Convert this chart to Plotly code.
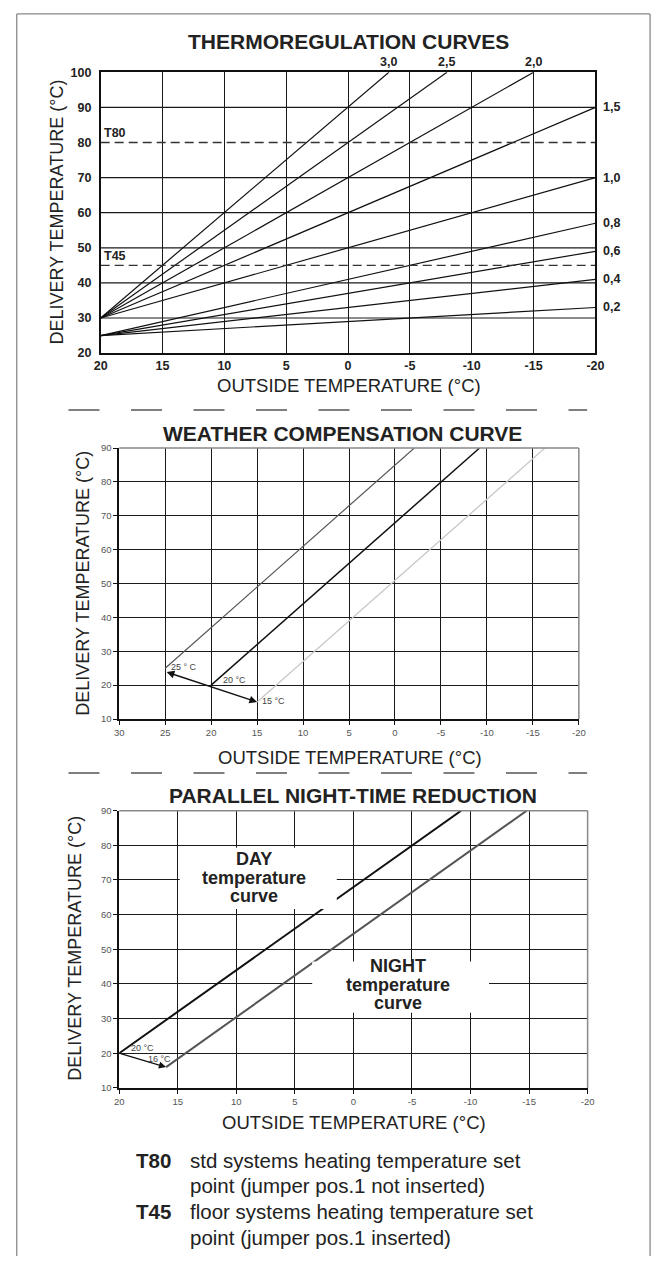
import plotly.graph_objects as go

W, H = 662, 1263

# ---------------- data ----------------
# Chart 1 : thermoregulation curves (straight lines: start and end points)
CURVE_LABELS = ["3,0", "2,5", "2,0", "1,5", "1,0", "0,8", "0,6", "0,4", "0,2"]
CURVE_X0 = [20, 20, 20, 20, 20, 20, 20, 20, 20]
CURVE_Y0 = [30, 30, 30, 30, 30, 25, 25, 25, 25]
CURVE_X1 = [-3.3, -8, -15, -20, -20, -20, -20, -20, -20]
CURVE_Y1 = [100, 100, 100, 90, 70, 57, 49, 41, 33]
SETPOINT_NAMES = ["T80", "T45"]
SETPOINT_VALUES = [80, 45]
TOP_X_TICKS = [20, 15, 10, 5, 0, -5, -10, -15, -20]
TOP_Y_TICKS = [20, 30, 40, 50, 60, 70, 80, 90, 100]
TOP_Y_GRID = [30, 40, 50, 60, 70, 90]

# Chart 2 : weather compensation curve
WC_LABELS = ["25 ° C", "20 °C", "15 °C"]
WC_X0 = [25, 20, 15]
WC_Y0 = [25, 20, 15]
WC_X1 = [-2.1, -9.2, -16.3]
WC_Y1 = [90, 90, 90]
WC_ARROW_X = [25, 15]
WC_ARROW_Y = [24, 15]
MID_X_TICKS = [30, 25, 20, 15, 10, 5, 0, -5, -10, -15, -20]
MID_Y_TICKS = [10, 20, 30, 40, 50, 60, 70, 80, 90]

# Chart 3 : parallel night-time reduction
NR_NAMES = ["DAY", "NIGHT"]
NR_X0 = [20, 16]
NR_Y0 = [20, 16]
NR_X1 = [-9.2, -14.8]
NR_Y1 = [90, 90]
NR_POINT_LABELS = ["20 °C", "16 °C"]
BOT_X_TICKS = [20, 15, 10, 5, 0, -5, -10, -15, -20]
BOT_Y_TICKS = [10, 20, 30, 40, 50, 60, 70, 80, 90]

NOTES = [("T80", "std systems heating temperature set", "point (jumper pos.1 not inserted)"),
         ("T45", "floor systems heating temperature set", "point (jumper pos.1 inserted)")]

# ---------------- helpers ----------------
FONT = "Liberation Sans, Arial, Helvetica, sans-serif"


def px(x):
    return x / W


def py(y):
    return 1 - y / H


def ticktext(vals):
    return [str(v) for v in vals]


fig = go.Figure()
annotations = []
shapes = []

# ---------------- chart 1 ----------------
for yv in TOP_Y_GRID:
    shapes.append(dict(type="line", xref="x domain", yref="y", x0=0, x1=1, y0=yv, y1=yv,
                       line=dict(color="#1a1a1a", width=1.2), layer="below"))

for lab, x0, y0, x1, y1 in zip(CURVE_LABELS, CURVE_X0, CURVE_Y0, CURVE_X1, CURVE_Y1):
    fig.add_trace(go.Scatter(x=[x0, x1], y=[y0, y1], mode="lines",
                             line=dict(color="#111", width=1.2),
                             xaxis="x", yaxis="y", showlegend=False, hoverinfo="skip"))
    if y1 >= 100:
        annotations.append(dict(x=x1, y=y1, xref="x", yref="y", text="<b>%s</b>" % lab,
                                showarrow=False, xanchor="center", yanchor="bottom", yshift=1,
                                font=dict(family=FONT, size=12.5, color="#222")))
    else:
        annotations.append(dict(x=x1, y=y1, xref="x", yref="y", text="<b>%s</b>" % lab,
                                showarrow=False, xanchor="left", yanchor="middle", xshift=6,
                                font=dict(family=FONT, size=12.5, color="#222")))

for name, val in zip(SETPOINT_NAMES, SETPOINT_VALUES):
    fig.add_trace(go.Scatter(x=[TOP_X_TICKS[0], TOP_X_TICKS[-1]], y=[val, val], mode="lines",
                             line=dict(color="#333", width=1.3, dash="9px,5px"),
                             xaxis="x", yaxis="y", showlegend=False, hoverinfo="skip"))
    annotations.append(dict(x=TOP_X_TICKS[0], y=val, xref="x", yref="y", text="<b>%s</b>" % name,
                            showarrow=False, xanchor="left", yanchor="bottom", xshift=1, yshift=0,
                            font=dict(family=FONT, size=12.5, color="#222")))

# ---------------- chart 2 ----------------
wc_styles = [dict(color="#555", width=1.2), dict(color="#111", width=1.5), dict(color="#c8c8c8", width=1.3)]
for lab, x0, y0, x1, y1, st in zip(WC_LABELS, WC_X0, WC_Y0, WC_X1, WC_Y1, wc_styles):
    fig.add_trace(go.Scatter(x=[x0, x1], y=[y0, y1], mode="lines", line=st,
                             xaxis="x2", yaxis="y2", showlegend=False, hoverinfo="skip"))

wc_label_pos = [(23.0, 25.3), (17.5, 21.4), (13.2, 15.2)]
for lab, (lx, ly) in zip(WC_LABELS, wc_label_pos):
    annotations.append(dict(x=lx, y=ly, xref="x2", yref="y2", text=lab, showarrow=False,
                            xanchor="center", yanchor="middle",
                            font=dict(family=FONT, size=9, color="#444")))

annotations.append(dict(x=WC_ARROW_X[1], y=WC_ARROW_Y[1], ax=WC_ARROW_X[0], ay=WC_ARROW_Y[0],
                        xref="x2", yref="y2", axref="x2", ayref="y2", text="", showarrow=True,
                        arrowhead=2, startarrowhead=2, arrowside="end+start", arrowsize=1.1,
                        startarrowsize=1.1, arrowwidth=1.4, arrowcolor="#111"))

# ---------------- chart 3 ----------------
nr_styles = [dict(color="#111", width=2), dict(color="#555", width=2)]
for name, x0, y0, x1, y1, st in zip(NR_NAMES, NR_X0, NR_Y0, NR_X1, NR_Y1, nr_styles):
    fig.add_trace(go.Scatter(x=[x0, x1], y=[y0, y1], mode="lines", line=st,
                             xaxis="x3", yaxis="y3", showlegend=False, hoverinfo="skip"))

annotations.append(dict(x=NR_X0[1], y=NR_Y0[1], ax=NR_X0[0], ay=NR_Y0[0],
                        xref="x3", yref="y3", axref="x3", ayref="y3", text="", showarrow=True,
                        arrowhead=2, arrowsize=1.1, arrowwidth=1.3, arrowcolor="#111"))
nr_label_pos = [(18.0, 21.4), (16.6, 18.4)]
for lab, (lx, ly) in zip(NR_POINT_LABELS, nr_label_pos):
    annotations.append(dict(x=lx, y=ly, xref="x3", yref="y3", text=lab, showarrow=False,
                            xanchor="center", yanchor="middle",
                            font=dict(family=FONT, size=9, color="#444")))

# white boxes behind the DAY / NIGHT labels
for (xa, xb, ya, yb) in [(14.83, 1.42, 79.3, 61.6), (3.52, -11.58, 46.5, 31.7)]:
    shapes.append(dict(type="rect", xref="x3", yref="y3", x0=xa, x1=xb, y0=ya, y1=yb,
                       fillcolor="white", line=dict(width=0), layer="above"))

day_lines = [("DAY", 861.7), ("temperature", 880.5), ("curve", 898.5)]
night_lines = [("NIGHT", 970.0), ("temperature", 988.5), ("curve", 1007.0)]
for txt, yy in day_lines:
    annotations.append(dict(x=px(253.5), y=py(yy), xref="paper", yref="paper", text="<b>%s</b>" % txt,
                            showarrow=False, xanchor="center", yanchor="middle",
                            font=dict(family=FONT, size=18, color="#222")))
for txt, yy in night_lines:
    annotations.append(dict(x=px(401), y=py(yy), xref="paper", yref="paper", text="<b>%s</b>" % txt,
                            showarrow=False, xanchor="center", yanchor="middle",
                            font=dict(family=FONT, size=18, color="#222")))

# ---------------- titles ----------------
titles = [("THERMOREGULATION CURVES", 349.5, 35), ("WEATHER COMPENSATION CURVE", 343.5, 431),
          ("PARALLEL NIGHT-TIME REDUCTION", 354.3, 797)]
for txt, xx, yy in titles:
    annotations.append(dict(x=px(xx), y=py(yy), xref="paper", yref="paper", text="<b>%s</b>" % txt,
                            showarrow=False, xanchor="center", yanchor="middle",
                            font=dict(family=FONT, size=21, color="#222")))

xtitles = [(350.5, 383), (351, 759), (356, 1128)]
for xx, yy in xtitles:
    annotations.append(dict(x=px(xx), y=py(yy), xref="paper", yref="paper",
                            text="OUTSIDE TEMPERATURE (°C)", showarrow=False,
                            xanchor="center", yanchor="middle",
                            font=dict(family=FONT, size=18.5, color="#222")))
ytitles = [(51, 207), (77, 583), (70, 952)]
for xx, yy in ytitles:
    annotations.append(dict(x=px(xx), y=py(yy), xref="paper", yref="paper",
                            text="DELIVERY TEMPERATURE (°C)", showarrow=False, textangle=-90,
                            xanchor="center", yanchor="middle",
                            font=dict(family=FONT, size=18, color="#222")))

# notes
for i, (code, l1, l2) in enumerate(NOTES):
    y1 = 1166 + i * 52
    annotations.append(dict(x=px(130), y=py(y1), xref="paper", yref="paper", text="<b>%s</b>" % code,
                            showarrow=False, xanchor="left", yanchor="middle",
                            font=dict(family=FONT, size=20.5, color="#222")))
    annotations.append(dict(x=px(185), y=py(y1), xref="paper", yref="paper", text=l1,
                            showarrow=False, xanchor="left", yanchor="middle",
                            font=dict(family=FONT, size=20.5, color="#222")))
    annotations.append(dict(x=px(185), y=py(y1 + 26), xref="paper", yref="paper", text=l2,
                            showarrow=False, xanchor="left", yanchor="middle",
                            font=dict(family=FONT, size=20.5, color="#222")))

# ---------------- decorative shapes ----------------
shapes.append(dict(type="line", xref="paper", yref="paper", x0=px(10), x1=px(10), y0=py(7), y1=py(1263),
                   line=dict(color="#888", width=1.3)))
shapes.append(dict(type="line", xref="paper", yref="paper", x0=px(659), x1=px(659), y0=py(7), y1=py(1263),
                   line=dict(color="#888", width=1.3)))
shapes.append(dict(type="line", xref="paper", yref="paper", x0=px(10), x1=px(659), y0=py(7), y1=py(7),
                   line=dict(color="#888", width=1.3)))
for yy in [407.5, 774.5]:
    shapes.append(dict(type="line", xref="paper", yref="paper", x0=px(63), x1=px(594.5), y0=py(yy), y1=py(yy),
                       line=dict(color="#555", width=1.5, dash="31px,31.5px")))
for ax in ["2", "3"]:
    shapes.append(dict(type="line", xref="x%s domain" % ax, yref="y%s domain" % ax, x0=0, x1=1, y0=1, y1=1,
                       line=dict(color="#888", width=1.5), layer="above"))
    shapes.append(dict(type="line", xref="x%s domain" % ax, yref="y%s domain" % ax, x0=1, x1=1, y0=0, y1=1,
                       line=dict(color="#888", width=1.5), layer="above"))

# ---------------- axes ----------------
top_font = dict(family=FONT, size=12.5, color="#222", weight="bold")
small_font = dict(family=FONT, size=9.5, color="#555")

common = dict(zeroline=False, showline=True, linecolor="#111", linewidth=1.6, fixedrange=True)
grid = dict(showgrid=True, gridcolor="#1a1a1a", gridwidth=1.3)

layout_axes = dict(
    xaxis=dict(domain=[px(96), px(603)], range=[20, -20], tickvals=TOP_X_TICKS,
               ticktext=ticktext(TOP_X_TICKS), ticks="", tickfont=top_font, anchor="y", mirror=True,
               showgrid=True, gridcolor="#1a1a1a", gridwidth=1.2, **common),
    yaxis=dict(domain=[py(350), py(66)], range=[20, 100], tickvals=TOP_Y_TICKS, ticks="",
               tickfont=top_font, anchor="x", mirror=True, ticklabelstandoff=5, showgrid=False, **common),
    xaxis2=dict(domain=[px(115), px(586)], range=[30, -20], tickvals=MID_X_TICKS,
                ticktext=ticktext(MID_X_TICKS), ticks="outside",
                ticklen=4, tickcolor="#111", tickfont=small_font, anchor="y2", **grid, **common),
    yaxis2=dict(domain=[py(720), py(446)], range=[10, 90], tickvals=MID_Y_TICKS, ticks="outside",
                ticklen=4, tickcolor="#111", tickfont=small_font, anchor="x2", **grid, **common),
    xaxis3=dict(domain=[px(115), px(595)], range=[20, -20], tickvals=BOT_X_TICKS,
                ticktext=ticktext(BOT_X_TICKS), ticks="outside",
                ticklen=4, tickcolor="#111", tickfont=small_font, anchor="y3", **grid, **common),
    yaxis3=dict(domain=[py(1093), py(812.7)], range=[10, 90], tickvals=BOT_Y_TICKS, ticks="outside",
                ticklen=4, tickcolor="#111", tickfont=small_font, anchor="x3", **grid, **common),
)

fig.update_layout(
    width=W, height=H, margin=dict(l=0, r=0, t=0, b=0),
    paper_bgcolor="white", plot_bgcolor="white",
    showlegend=False, annotations=annotations, shapes=shapes,
    font=dict(family=FONT, color="#222"),
    **layout_axes,
)

fig.write_html("out.html", config={"displayModeBar": False},
               post_script="document.body.style.margin='0';document.body.style.overflow='hidden';")
